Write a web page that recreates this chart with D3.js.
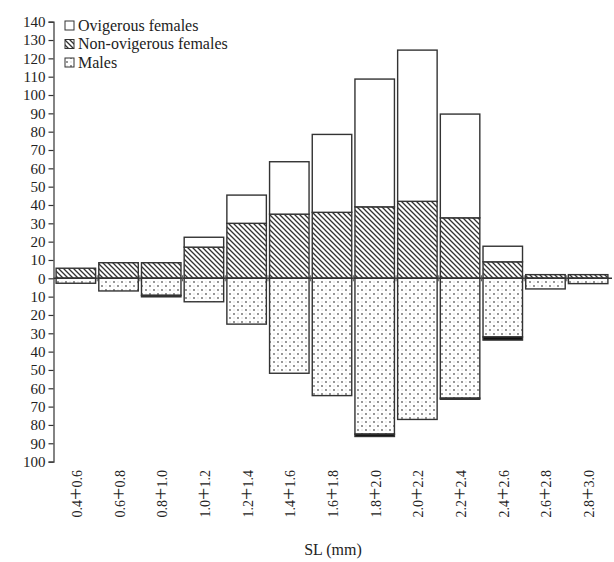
<!DOCTYPE html>
<html>
<head>
<meta charset="utf-8">
<script src="https://cdn.jsdelivr.net/npm/d3@7"></script>
<style>
  body { margin: 0; background: #fff; }
  svg text { font-family: "Liberation Serif", serif; fill: #222; }
</style>
</head>
<body>
<div id="chart"></div>
<script>
// size classes (SL, mm)
const classes = ["0.4", "0.6", "0.8", "1.0", "1.2", "1.4", "1.6", "1.8", "2.0", "2.2", "2.4", "2.6", "2.8", "3.0"];
const bins = classes.slice(0, -1).map((c, i) => [c, classes[i + 1]]);

// females above zero, males below
const nonOvigerous = [5.5, 8.5, 8.5, 17, 30, 35, 36, 39, 42, 33, 9, 2, 2];
const ovigerous    = [0, 0, 0, 5.4, 15.4, 28.6, 42.5, 69.7, 82.5, 56.6, 8.5, 0, 0];
const males        = [2.7, 6.9, 9.3, 12.8, 25, 51.8, 64, 85, 77, 65.4, 32, 5.8, 2.9];
const darkBand     = [0, 0, 0.8, 0, 0, 0, 0, 1.3, 0, 0.6, 1.7, 0, 0];

const yTicks = d3.range(-100, 141, 10);

const width = 614, height = 562;
const svg = d3.select("#chart").append("svg")
    .attr("width", width)
    .attr("height", height)
    .attr("font-family", "Liberation Serif");

const defs = svg.append("defs");

// hatch for non-ovigerous females
const hatch = defs.append("pattern")
    .attr("id", "hatch")
    .attr("patternUnits", "userSpaceOnUse")
    .attr("width", 5).attr("height", 5);
hatch.append("rect").attr("width", 5).attr("height", 5).attr("fill", "#fff");
hatch.append("path")
    .attr("d", "M-1,-1 L6,6 M-1,4 L1,6 M4,-1 L6,1")
    .attr("stroke", "#333")
    .attr("stroke-width", 1.3);

// dots for males
const dots = defs.append("pattern")
    .attr("id", "dots")
    .attr("patternUnits", "userSpaceOnUse")
    .attr("width", 8).attr("height", 8);
dots.append("rect").attr("width", 8).attr("height", 8).attr("fill", "#fff");
dots.append("circle").attr("cx", 2).attr("cy", 2).attr("r", 0.9).attr("fill", "#666");
dots.append("circle").attr("cx", 6).attr("cy", 6).attr("r", 0.9).attr("fill", "#666");
dots.append("rect").attr("x", 5.5).attr("y", 1.6).attr("width", 1).attr("height", 0.8).attr("fill", "#aaa");
dots.append("rect").attr("x", 1.5).attr("y", 5.6).attr("width", 1).attr("height", 0.8).attr("fill", "#aaa");

const x = d3.scaleBand()
    .domain(d3.range(bins.length))
    .range([54.5, 609.5])
    .paddingInner(0.075)
    .paddingOuter(0.0375);

const y = d3.scaleLinear()
    .domain([-100, 140])
    .range([461.6, 21.7]);

const stroke = "#333";

const rows = bins.map((b, i) => ({
    i,
    nov: nonOvigerous[i],
    ov: ovigerous[i],
    m: males[i],
    dk: darkBand[i]
}));

// Y axis
const yAxis = svg.append("g")
    .attr("transform", "translate(53.5,0)")
    .call(d3.axisLeft(y).tickValues(yTicks).tickSize(5).tickFormat(d => Math.abs(d)));
yAxis.attr("font-family", "Liberation Serif").attr("font-size", null);
yAxis.select(".domain").attr("stroke", stroke).attr("stroke-width", 1.2);
yAxis.selectAll(".tick line").attr("stroke", stroke).attr("stroke-width", 1.2);
yAxis.selectAll(".tick text")
    .attr("x", -8)
    .style("font-size", "15px")
    .attr("fill", "#222");

const bar = svg.append("g").attr("stroke", stroke).attr("stroke-width", 1.4);

// non-ovigerous females (bottom of the stack)
bar.selectAll(".nov").data(rows).join("rect")
    .attr("x", d => x(d.i))
    .attr("width", x.bandwidth())
    .attr("y", d => y(d.nov))
    .attr("height", d => y(0) - y(d.nov))
    .attr("fill", "url(#hatch)");

// ovigerous females on top
bar.selectAll(".ov").data(rows.filter(d => d.ov > 0)).join("rect")
    .attr("x", d => x(d.i))
    .attr("width", x.bandwidth())
    .attr("y", d => y(d.nov + d.ov))
    .attr("height", d => y(d.nov) - y(d.nov + d.ov))
    .attr("fill", "#fff");

// males below zero
bar.selectAll(".m").data(rows).join("rect")
    .attr("x", d => x(d.i))
    .attr("width", x.bandwidth())
    .attr("y", y(0))
    .attr("height", d => y(-d.m) - y(0))
    .attr("fill", "url(#dots)");

bar.selectAll(".dk").data(rows.filter(d => d.dk > 0)).join("rect")
    .attr("x", d => x(d.i))
    .attr("width", x.bandwidth())
    .attr("y", d => y(-d.m))
    .attr("height", d => y(-d.m - d.dk) - y(-d.m))
    .attr("fill", "#111");

// zero line
svg.append("line")
    .attr("x1", 53.5).attr("x2", 612)
    .attr("y1", y(0)).attr("y2", y(0))
    .attr("stroke", stroke).attr("stroke-width", 1.4);

// small boundary ticks on the zero line
svg.append("g").selectAll("line")
    .data(d3.range(1, bins.length))
    .join("line")
    .attr("x1", i => x(i) - x.step() * x.paddingInner() / 2)
    .attr("x2", i => x(i) - x.step() * x.paddingInner() / 2)
    .attr("y1", y(0) - 3).attr("y2", y(0) + 3)
    .attr("stroke", "#555").attr("stroke-width", 1);

// x labels (rotated)
const xl = svg.append("g").selectAll("text")
    .data(bins)
    .join("text")
    .attr("transform", (d, i) => `translate(${x(i) + x.bandwidth() / 2 + 6},${470}) rotate(-90)`)
    .attr("text-anchor", "end")
    .style("font-size", "14px");
xl.append("tspan").text(d => d[0]);
xl.append("tspan").style("font-size", "22px").attr("dy", 1).text("+");
xl.append("tspan").attr("dy", -1).text(d => d[1]);

svg.append("text")
    .attr("x", 333).attr("y", 555)
    .attr("text-anchor", "middle")
    .style("font-size", "16px")
    .text("SL (mm)");

// legend
const legend = [
    { label: "Ovigerous females", fill: "#fff" },
    { label: "Non-ovigerous females", fill: "url(#hatch)" },
    { label: "Males", fill: "url(#dots)" }
];
const lg = svg.append("g").attr("transform", "translate(65,20)");
lg.selectAll("rect").data(legend).join("rect")
    .attr("x", 0).attr("y", (d, i) => i * 18.5 + 1)
    .attr("width", 9).attr("height", 9)
    .attr("fill", d => d.fill)
    .attr("stroke", stroke).attr("stroke-width", 1);
lg.selectAll("text").data(legend).join("text")
    .attr("x", 13).attr("y", (d, i) => i * 18.5 + 10.5)
    .style("font-size", "16px")
    .text(d => d.label);
</script>
</body>
</html>
